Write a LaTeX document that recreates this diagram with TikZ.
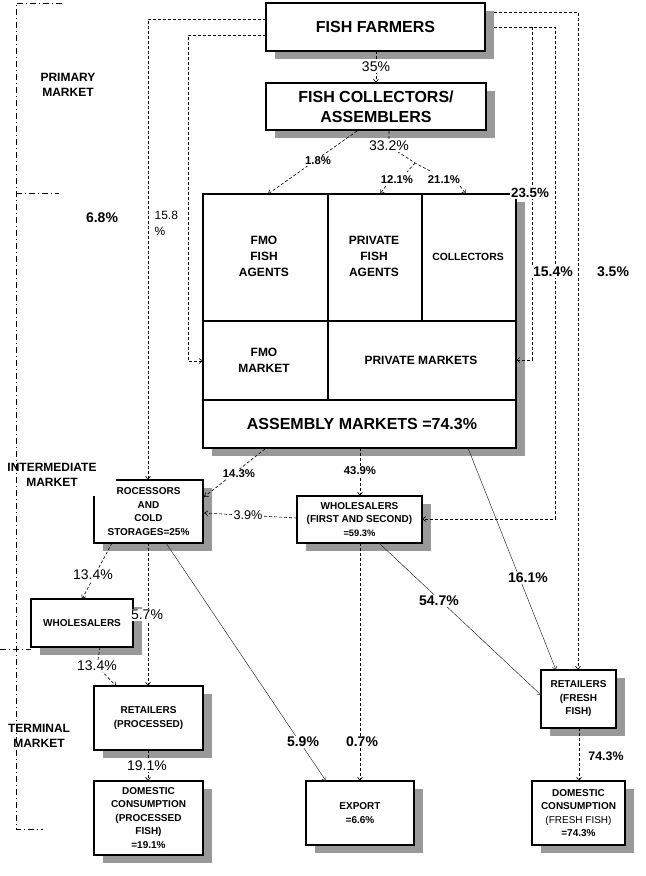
\documentclass[tikz,border=0pt]{standalone}
\usepackage{fontspec}
\setmainfont{Liberation Sans}
\usetikzlibrary{arrows.meta,fit}
\newcommand\shbox[7]{%
  \fill[shad] (#2+9,#3+8) rectangle (#4+9,#5+8);
  \node[boxst, fit={(#2,#3) (#4,#5)}] (#1) {};
  \node[#6] (#1-t) at (#1.center) {#7};
}
\begin{document}
\begin{tikzpicture}[x=0.75pt,y=-0.75pt,
  boxst/.style={draw, fill=white, line width=0.8pt, inner sep=0pt},
  shad/.style={fill=black!40},
  conn/.style={line width=0.45pt, dash pattern=on 2.25pt off 1.5pt},
  diag/.style={line width=0.35pt, black!85},
  tip/.style={-{Straight Barb[length=2.5pt,width=3.6pt]}},
  brk/.style={line width=0.6pt, dash pattern=on 4.5pt off 2.25pt on 0.75pt off 2.25pt},
  pct/.style={fill=white, inner sep=1pt, font=\fontsize{10.5}{12}\selectfont},
  pctb/.style={pct, font=\fontsize{10.5}{12}\selectfont\bfseries},
  pcts/.style={pct, font=\fontsize{8.5}{10}\selectfont\bfseries},
  big/.style={align=center, font=\fontsize{12}{15}\selectfont\bfseries},
  cell/.style={align=center, font=\fontsize{9}{12}\selectfont\bfseries},
  btxt/.style={align=center, font=\fontsize{7.5}{10.1}\selectfont\bfseries},
  mkt/.style={align=center, font=\fontsize{9}{11.25}\selectfont\bfseries}]
\useasboundingbox (0,0) rectangle (646,876);

% market brackets
\draw[brk] (62,3) -- (16,3) -- (16,829) -- (43,829);
\draw[brk] (16,193) -- (59,193);
\draw[brk] (0,649) -- (31,649);
\node[mkt] (mp) at (68,85) {PRIMARY\\MARKET};
\node[mkt] (mi) at (52,475) {INTERMEDIATE\\MARKET};
\node[mkt] (mt) at (39,736) {TERMINAL\\MARKET};

% boxes
\shbox{ff}{266}{3}{485}{51}{big}{FISH FARMERS}
\shbox{col}{266}{83}{486}{130}{big}{FISH COLLECTORS/\\ASSEMBLERS}
\shbox{asm}{203}{194}{516}{448}{big}{}
\draw[line width=0.8pt] (203,321) -- (516,321);
\draw[line width=0.8pt] (203,400) -- (516,400);
\draw[line width=0.8pt] (328,194) -- (328,400);
\draw[line width=0.8pt] (422,194) -- (422,321);
\node[cell] (fmoag) at (264,256) {FMO\\FISH\\AGENTS};
\node[cell] (prag) at (374,256) {PRIVATE\\FISH\\AGENTS};
\node[cell, font=\fontsize{7.8}{10}\selectfont\bfseries] (colc) at (468,257) {COLLECTORS};
\node[cell] (fmom) at (264,360) {FMO\\MARKET};
\node[cell] (prm) at (421,360) {PRIVATE MARKETS};
\node[big] (asmt) at (362,424) {ASSEMBLY MARKETS =74.3\%};

\shbox{proc}{94}{480}{203}{543}{btxt}{ROCESSORS\\AND\\COLD\\STORAGES=25\%}
\fill[white] (93.3,479.3) rectangle (116,496);
\shbox{whs}{297}{496}{422}{543}{btxt}{WHOLESALERS\\(FIRST AND SECOND)\\{\fontsize{7}{10.1}\selectfont =59.3\%}}
\shbox{whl}{31}{599}{133}{647}{btxt}{WHOLESALERS}
\shbox{retp}{94}{686}{203}{750}{btxt}{RETAILERS\\(PROCESSED)}
\shbox{domp}{94}{781}{203}{855}{btxt}{DOMESTIC\\CONSUMPTION\\(PROCESSED\\FISH)\\=19.1\%}
\shbox{exp}{306}{781}{414}{845}{btxt}{EXPORT\\=6.6\%}
\shbox{retf}{541}{670}{616}{728}{btxt}{RETAILERS\\(FRESH\\FISH)}
\shbox{domf}{532}{781}{625}{845}{btxt}{DOMESTIC\\CONSUMPTION\\{\mdseries (FRESH FISH)}\\=74.3\%}

% connector end points
\coordinate (ffL1) at (266,19);
\coordinate (ffL2) at (266,35);
\coordinate (procT1) at (148,480);
\coordinate (c188) at (188,361);
\coordinate (asmL) at (203,361);
\coordinate (ffR1) at (494,12);
\coordinate (ffR2) at (494,27);
\coordinate (retfT1) at (578,670);
\coordinate (c555) at (555,519);
\coordinate (whsR) at (422,519);
\coordinate (br532) at (532,27);
\coordinate (asmR) at (516,360);
\coordinate (ffB) at (376,51);
\coordinate (colT) at (376,83);
\coordinate (colB1) at (357,131);
\coordinate (asmT1) at (268,194);
\coordinate (colB2) at (389,131);
\coordinate (c332) at (389,146);
\coordinate (apex) at (415,163);
\coordinate (c211a) at (432,172);
\coordinate (c121a) at (407,172);
\coordinate (c121b) at (386,186);
\coordinate (asmT2) at (380,194);
\coordinate (c211b) at (460,186);
\coordinate (asmT3) at (466,194);
\coordinate (asmB1) at (265,449);
\coordinate (procR1) at (204,497);
\coordinate (asmB2) at (360,448);
\coordinate (whsT) at (360,496);
\coordinate (whsL) at (297,518);
\coordinate (procR2) at (204,513);
\coordinate (procB1) at (112,543);
\coordinate (whlT) at (82,599);
\coordinate (procB2) at (148,543);
\coordinate (retpT) at (148,686);
\coordinate (whlB) at (100,647);
\coordinate (c134b) at (97,666);
\coordinate (retpT2) at (116,686);
\coordinate (retpB) at (148,750);
\coordinate (dompT) at (148,781);
\coordinate (procB3) at (166,543);
\coordinate (expT1) at (326,781);
\coordinate (whsB1) at (360,543);
\coordinate (expT2) at (360,781);
\coordinate (whsB2) at (379,543);
\coordinate (retfL) at (541,695);
\coordinate (asmB3) at (468,448);
\coordinate (retfT2) at (556,670);
\coordinate (retfB) at (579,728);
\coordinate (domfT) at (579,781);

% connectors
\draw[conn,tip] (ffL1) -| (procT1);
\draw[conn,tip] (ffL2) -| (c188) -- (asmL);
\draw[conn,tip] (ffR1) -| (retfT1);
\draw[conn,tip] (ffR2) -| (c555) -- (whsR);
\draw[conn,tip] (br532) |- (asmR);
\draw[conn,tip] (ffB) -- (colT);
\draw[conn,tip] (colB1) -- (asmT1);
\draw[conn] (colB2) -- (c332) -- (apex) -- (c211a);
\draw[conn] (apex) -- (c121a);
\draw[conn,tip] (c121b) -- (asmT2);
\draw[conn,tip] (c211b) -- (asmT3);
\draw[conn,tip] (asmB1) -- (procR1);
\draw[conn,tip] (asmB2) -- (whsT);
\draw[conn,tip] (whsL) -- (procR2);
\draw[conn,tip] (procB1) -- (whlT);
\draw[conn,tip] (procB2) -- (retpT);
\draw[conn,tip] (whlB) -- (c134b) -- (retpT2);
\draw[conn,tip] (retpB) -- (dompT);
\draw[diag,tip] (procB3) -- (expT1);
\draw[conn,tip] (whsB1) -- (expT2);
\draw[diag,tip] (whsB2) -- (retfL);
\draw[diag,tip] (asmB3) -- (retfT2);
\draw[conn,tip] (retfB) -- (domfT);

% labels
\node[pct] (p35) at (376,67) {35\%};
\node[pct] (p332) at (389,146) {33.2\%};
\node[pcts] (p18) at (318,161) {1.8\%};
\node[pcts] (p121) at (397,180) {12.1\%};
\node[pcts] (p211) at (444,180) {21.1\%};
\node[pctb, font=\fontsize{10}{12}\selectfont\bfseries] (p235) at (530,193) {23.5\%};
\node[pctb] (p68) at (102,218) {6.8\%};
\node[fill=white, inner sep=1pt, anchor=north west, align=left, font=\fontsize{9}{12}\selectfont] (p158) at (153,210) {15.8\\\%};
\node[pctb] (p154) at (553,272) {15.4\%};
\node[pctb] (p35b) at (613,272) {3.5\%};
\node[pcts] (p143) at (239,474) {14.3\%};
\node[pcts] (p439) at (360,471) {43.9\%};
\node[pct, font=\fontsize{9.5}{11}\selectfont] (p39) at (248,515) {3.9\%};
\node[pct] (p134a) at (93,575) {13.4\%};
\node[pct] (p57) at (147,615) {5.7\%};
\node[pct] (p134b) at (97,666) {13.4\%};
\node[pctb] (p161) at (528,578) {16.1\%};
\node[pctb] (p547) at (439,601) {54.7\%};
\node[pctb] (p59) at (303,742) {5.9\%};
\node[pctb] (p07) at (362,742) {0.7\%};
\node[pct] (p191) at (147,766) {19.1\%};
\node[pcts, font=\fontsize{9.3}{11}\selectfont\bfseries] (p743) at (606,756) {74.3\%};
\end{tikzpicture}
\end{document}
